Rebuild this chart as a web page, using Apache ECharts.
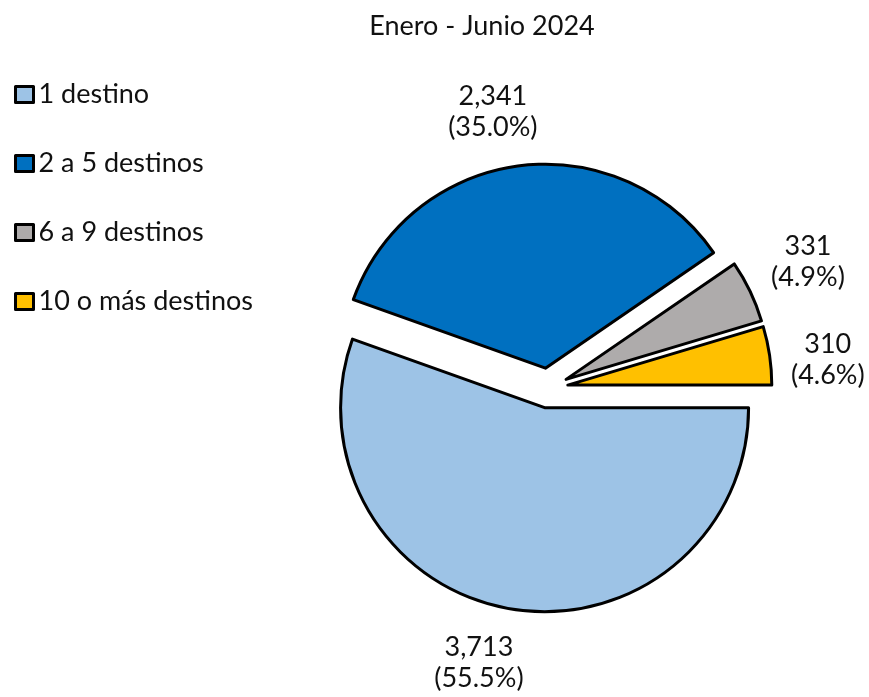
<!DOCTYPE html>
<html>
<head>
<meta charset="utf-8">
<script src="https://cdn.jsdelivr.net/npm/echarts@6/dist/echarts.min.js"></script>
<style>
  html, body { margin: 0; padding: 0; background: #fff; }
  #chart { width: 869px; height: 697px; }
</style>
</head>
<body>
<div id="chart"></div>
<script>
var categories = ['1 destino', '2 a 5 destinos', '6 a 9 destinos', '10 o más destinos']
var values = [3713, 2341, 331, 310]
var colors = ['#9DC3E6', '#0070C0', '#AEABAB', '#FFC000']

var total = values.reduce((a, b) => a + b, 0)
var pieCenter = [548, 388]
var pieRadius = 204
var labelGap = 239
// small angle tweaks so the labels sit where the spreadsheet put them
var labelNudge = [4.3, -3.9, -0.3, 2.6]

// mid angle of each slice, clockwise from 3 o'clock (degrees)
var midAngles = []
var acc = 0
values.forEach(v => {
  midAngles.push((acc + v / 2) / total * 360)
  acc += v
})

function labelText(i) {
  var pct = (values[i] / total * 100).toFixed(1)
  return values[i].toLocaleString('en-US') + '\n(' + pct + '%)'
}

var font = 'Lato, "Open Sans", sans-serif'

var chart = echarts.init(document.getElementById('chart'))
var option = {
  animation: false,
  title: {
    text: 'Enero - Junio 2024',
    left: 477,
    top: 8,
    textAlign: 'center',
    textStyle: {
      fontFamily: font,
      fontSize: 27,
      fontWeight: 'normal',
      color: '#111'
    }
  },
  legend: {
    orient: 'vertical',
    left: 9,
    top: 76,
    itemGap: 42,
    itemWidth: 18,
    itemHeight: 16,
    icon: 'rect',
    selectedMode: false,
    data: categories,
    itemStyle: {
      borderColor: '#000',
      borderWidth: 3
    },
    textStyle: {
      fontFamily: font,
      fontSize: 27,
      lineHeight: 27,
      color: '#111'
    }
  },
  series: [
    {
      // the exploded slices
      type: 'pie',
      center: pieCenter,
      radius: pieRadius,
      startAngle: 0,
      clockwise: true,
      selectedMode: 'multiple',
      selectedOffset: 20,
      emphasis: { disabled: true },
      itemStyle: {
        borderColor: '#000',
        borderWidth: 3,
        borderJoin: 'round'
      },
      label: { show: false },
      labelLine: { show: false },
      data: categories.map((name, i) => ({
        name: name,
        value: values[i],
        selected: true,
        itemStyle: { color: colors[i] },
        select: { itemStyle: { color: colors[i], borderColor: '#000', borderWidth: 3 } }
      }))
    },
    {
      // same pie, invisible, only carries the data labels
      type: 'pie',
      center: pieCenter,
      radius: pieRadius,
      startAngle: 0,
      clockwise: true,
      silent: true,
      avoidLabelOverlap: false,
      emphasis: { disabled: true },
      itemStyle: { color: 'rgba(0,0,0,0)', borderWidth: 0 },
      label: {
        show: true,
        position: 'outside',
        fontFamily: font,
        fontSize: 27,
        lineHeight: 31,
        color: '#111',
        align: 'center',
        formatter(p) {
          return labelText(p.dataIndex)
        }
      },
      labelLine: { show: false },
      labelLayout(p) {
        var i = p.dataIndex
        var a = (midAngles[i] + labelNudge[i]) * Math.PI / 180
        var lines = labelText(i).split('\n')
        var w = Math.max(...lines.map(s => s.length)) * 6.5
        var h = 34
        var d = labelGap + Math.abs(Math.cos(a)) * w + Math.abs(Math.sin(a)) * h
        return {
          x: pieCenter[0] + d * Math.cos(a),
          y: pieCenter[1] + d * Math.sin(a),
          align: 'center',
          verticalAlign: 'middle'
        }
      },
      data: categories.map((name, i) => ({ name: name, value: values[i] }))
    }
  ]
}
chart.setOption(option)
</script>
</body>
</html>
